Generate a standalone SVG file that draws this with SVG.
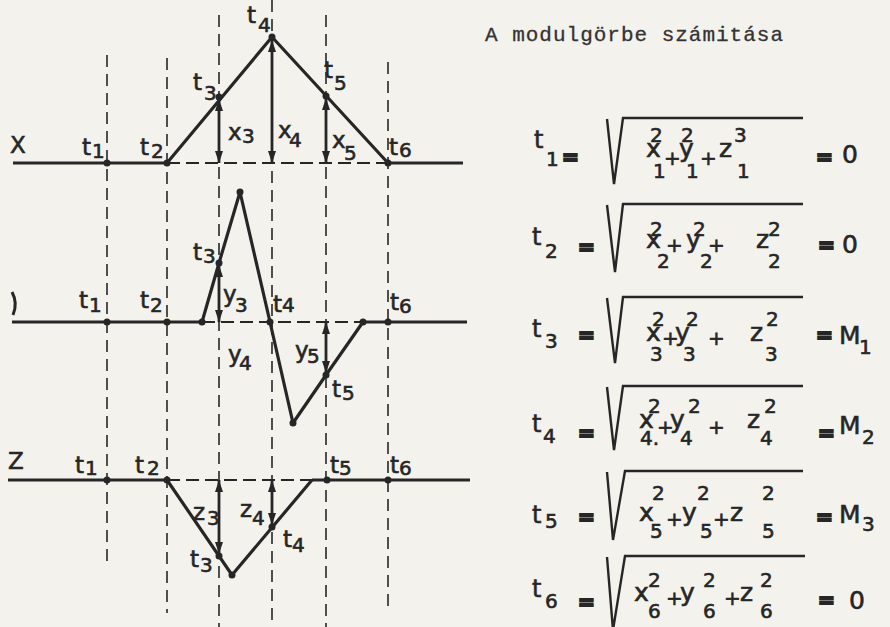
<svg xmlns="http://www.w3.org/2000/svg" width="890" height="627" viewBox="0 0 890 627">
<style>
.curve{stroke:#262626;stroke-width:3.2;fill:none;stroke-linejoin:round}
.base{stroke:#262626;stroke-width:3.2}
.vd{stroke:#262626;stroke-width:1.6;stroke-dasharray:12 7}
.hd{stroke:#262626;stroke-width:1.8;stroke-dasharray:13 6}
.dot{fill:#262626}
.arr{stroke:#262626;stroke-width:2.8;marker-start:url(#ah);marker-end:url(#ah)}
text{font-family:"DejaVu Sans","Liberation Sans",sans-serif;fill:#262626;stroke:#262626;stroke-width:0.6}
.L{font-size:23px}
.s{font-size:20px}
.F{font-size:25px}
.T{font-size:24px}
.fs{font-size:20px}
.op{font-size:20px}
.eq{font-size:20px;font-weight:bold;stroke-width:2}
.title{font-family:"Liberation Mono","DejaVu Sans Mono",monospace;font-size:21px;fill:#333;stroke:#333;stroke-width:0.3}
.rad{stroke:#262626;stroke-width:2.4;fill:none;stroke-linejoin:miter}
</style>
<defs>
<marker id="ah" viewBox="0 0 12 8" refX="12" refY="4" markerWidth="12" markerHeight="8" markerUnits="userSpaceOnUse" orient="auto-start-reverse"><path d="M0,0 L12,4 L0,8 z" fill="#262626"/></marker>
</defs>
<rect width="890" height="627" fill="#f4f2ec"/>

<g id="grid">
<line class="vd" x1="107" y1="55" x2="107" y2="562"/>
<line class="vd" x1="167" y1="58" x2="167" y2="613"/>
<line class="vd" x1="219" y1="15" x2="219" y2="627"/>
<line class="vd" x1="272" y1="0" x2="272" y2="627"/>
<line class="vd" x1="326" y1="15" x2="326" y2="627"/>
<line class="vd" x1="388" y1="62" x2="388" y2="612"/>
</g>

<g id="plot-x">
<line class="base" x1="13" y1="163" x2="167" y2="163"/>
<line class="hd" x1="167" y1="163" x2="388" y2="163"/>
<line class="base" x1="388" y1="163" x2="463" y2="163"/>
<polyline class="curve" points="167,163 272,37 388,163"/>
<circle class="dot" cx="107" cy="163" r="3.5"/><circle class="dot" cx="167" cy="163" r="3.5"/>
<circle class="dot" cx="219" cy="97" r="3.5"/><circle class="dot" cx="272" cy="37" r="3.5"/>
<circle class="dot" cx="326" cy="96" r="3.5"/><circle class="dot" cx="388" cy="163" r="3.5"/>
<text class="L" x="10" y="153">X</text>
<text class="L" x="82" y="155">t</text><text class="s" x="92" y="158">1</text>
<text class="L" x="140" y="155">t</text><text class="s" x="151" y="158">2</text>
<text class="L" x="193" y="90">t</text><text class="s" x="204" y="100">3</text>
<text class="L" x="247" y="23">t</text><text class="s" x="258" y="32">4</text>
<text class="L" x="324" y="78">t</text><text class="s" x="334" y="90">5</text>
<text class="L" x="389" y="155">t</text><text class="s" x="399" y="157">6</text>
<text class="L" x="228" y="140">x</text><text class="s" x="242" y="143">3</text>
<text class="L" x="278" y="138">x</text><text class="s" x="289" y="147">4</text>
<text class="L" x="332" y="148">x</text><text class="s" x="344" y="160">5</text>
</g>

<g id="plot-y">
<path d="M12,292 Q18,303 13,315" stroke="#262626" stroke-width="3" fill="none"/>
<line class="base" x1="12" y1="322" x2="202" y2="322"/>
<line class="hd" x1="202" y1="322" x2="363" y2="322"/>
<line class="base" x1="363" y1="322" x2="467" y2="322"/>
<polyline class="curve" points="202,322 219,263 240,192 270,322 293,423 326,375 363,322"/>
<circle class="dot" cx="107" cy="322" r="3.5"/><circle class="dot" cx="167" cy="322" r="3.5"/>
<circle class="dot" cx="202" cy="322" r="3.5"/><circle class="dot" cx="219" cy="263" r="3.5"/>
<circle class="dot" cx="240" cy="192" r="3.5"/><circle class="dot" cx="270" cy="322" r="3.5"/>
<circle class="dot" cx="293" cy="423" r="3.5"/><circle class="dot" cx="326" cy="375" r="3.5"/>
<circle class="dot" cx="363" cy="322" r="3.5"/><circle class="dot" cx="388" cy="322" r="3.5"/>
<text class="L" x="79" y="308">t</text><text class="s" x="89" y="312">1</text>
<text class="L" x="140" y="308">t</text><text class="s" x="150" y="312">2</text>
<text class="L" x="193" y="260">t</text><text class="s" x="203" y="263">3</text>
<text class="L" x="223" y="302">y</text><text class="s" x="235" y="312">3</text>
<text class="L" x="273" y="312">t</text><text class="s" x="282" y="312">4</text>
<text class="L" x="390" y="310">t</text><text class="s" x="399" y="313">6</text>
<text class="L" x="228" y="362">y</text><text class="s" x="239" y="370">4</text>
<text class="L" x="295" y="358">y</text><text class="s" x="307" y="363">5</text>
<text class="L" x="332" y="397">t</text><text class="s" x="342" y="400">5</text>
</g>

<g id="plot-z">
<line class="base" x1="8" y1="480" x2="167" y2="480"/>
<line class="hd" x1="167" y1="480" x2="312" y2="480"/>
<line class="base" x1="312" y1="480" x2="470" y2="480"/>
<polyline class="curve" points="167,480 232,575 312,480"/>
<circle class="dot" cx="107" cy="480" r="3.5"/><circle class="dot" cx="167" cy="480" r="3.5"/>
<circle class="dot" cx="219" cy="556" r="3.5"/><circle class="dot" cx="232" cy="575" r="3.5"/>
<circle class="dot" cx="272" cy="527" r="3.5"/><circle class="dot" cx="327" cy="480" r="3.5"/>
<circle class="dot" cx="388" cy="480" r="3.5"/>
<text class="L" x="8" y="469">Z</text>
<text class="L" x="75" y="473">t</text><text class="s" x="85" y="475">1</text>
<text class="L" x="135" y="473">t</text><text class="s" x="147" y="475">2</text>
<text class="L" x="330" y="473">t</text><text class="s" x="339" y="475">5</text>
<text class="L" x="390" y="473">t</text><text class="s" x="399" y="475">6</text>
<text class="L" x="193" y="520">z</text><text class="s" x="207" y="525">3</text>
<text class="L" x="240" y="517">z</text><text class="s" x="252" y="525">4</text>
<text class="L" x="283" y="547">t</text><text class="s" x="292" y="552">4</text>
<text class="L" x="190" y="567">t</text><text class="s" x="200" y="572">3</text>
</g>

<g id="connectors">
<line class="arr" x1="219" y1="99" x2="219" y2="163"/>
<line class="arr" x1="272" y1="40" x2="272" y2="163"/>
<line class="arr" x1="326" y1="98" x2="326" y2="163"/>
<line class="arr" x1="219" y1="265" x2="219" y2="322"/>
<line class="arr" x1="326" y1="322" x2="326" y2="373"/>
<line class="arr" x1="219" y1="480" x2="219" y2="554"/>
<line class="arr" x1="272" y1="480" x2="272" y2="525"/>
</g>

<g id="title"><text class="title" x="485" y="41" textLength="298">A modulgörbe számitása</text></g>

<g id="eq1">
<text class="T" x="534" y="148">t</text><text class="fs" x="546" y="166">1</text>
<text class="eq" x="562" y="164">=</text>
<path class="rad" d="M607,119 L614,184 L623,118 L803,118"/>
<text class="F" x="646" y="157">x</text><text class="fs" x="650" y="142">2</text><text class="fs" x="653" y="178">1</text>
<text class="op" x="664" y="165">+</text>
<text class="F" x="679" y="157">y</text><text class="fs" x="681" y="142">2</text><text class="fs" x="686" y="178">1</text>
<text class="op" x="700" y="165">+</text>
<text class="F" x="719" y="157">z</text><text class="fs" x="734" y="142">3</text><text class="fs" x="737" y="178">1</text>
<text class="eq" x="816" y="164">=</text>
<text class="F" x="842" y="163">0</text>
</g>

<g id="eq2">
<text class="T" x="532" y="245">t</text><text class="fs" x="545" y="258">2</text>
<text class="eq" x="578" y="254">=</text>
<path class="rad" d="M607,205 L615,272 L623,204 L803,204"/>
<text class="F" x="646" y="248">x</text><text class="fs" x="650" y="236">2</text><text class="fs" x="657" y="268">2</text>
<text class="op" x="666" y="252">+</text>
<text class="F" x="686" y="248">y</text><text class="fs" x="693" y="236">2</text><text class="fs" x="700" y="268">2</text>
<text class="op" x="708" y="252">+</text>
<text class="F" x="756" y="248">z</text><text class="fs" x="768" y="236">2</text><text class="fs" x="768" y="268">2</text>
<text class="eq" x="818" y="252">=</text>
<text class="F" x="842" y="253">0</text>
</g>

<g id="eq3">
<text class="T" x="532" y="337">t</text><text class="fs" x="545" y="348">3</text>
<text class="eq" x="578" y="342">=</text>
<path class="rad" d="M607,298 L615,363 L623,297 L803,297"/>
<text class="F" x="646" y="341">x</text><text class="fs" x="652" y="326">2</text><text class="fs" x="650" y="361">3</text>
<text class="op" x="662" y="345">+</text>
<text class="F" x="675" y="341">y</text><text class="fs" x="686" y="326">2</text><text class="fs" x="683" y="361">3</text>
<text class="op" x="708" y="345">+</text>
<text class="F" x="750" y="341">z</text><text class="fs" x="766" y="326">2</text><text class="fs" x="765" y="361">3</text>
<text class="eq" x="816" y="342">=</text>
<text class="F" x="839" y="344">M</text><text class="fs" x="859" y="354">1</text>
</g>

<g id="eq4">
<text class="T" x="532" y="432">t</text><text class="fs" x="543" y="443">4</text>
<text class="eq" x="578" y="440">=</text>
<path class="rad" d="M607,387 L614,450 L623,386 L803,386"/>
<text class="F" x="639" y="428">x</text><text class="fs" x="648" y="413">2</text><text class="fs" x="640" y="445">4.</text>
<text class="op" x="657" y="434">+</text>
<text class="F" x="670" y="428">y</text><text class="fs" x="688" y="413">2</text><text class="fs" x="680" y="445">4</text>
<text class="op" x="708" y="434">+</text>
<text class="F" x="747" y="428">z</text><text class="fs" x="764" y="413">2</text><text class="fs" x="760" y="445">4</text>
<text class="eq" x="818" y="440">=</text>
<text class="F" x="839" y="434">M</text><text class="fs" x="862" y="444">2</text>
</g>

<g id="eq5">
<text class="T" x="532" y="523">t</text><text class="fs" x="545" y="528">5</text>
<text class="eq" x="578" y="524">=</text>
<path class="rad" d="M607,472 L613,540 L625,471 L803,471"/>
<text class="F" x="639" y="521">x</text><text class="fs" x="652" y="500">2</text><text class="fs" x="650" y="538">5</text>
<text class="op" x="666" y="526">+</text>
<text class="F" x="682" y="521">y</text><text class="fs" x="697" y="500">2</text><text class="fs" x="700" y="538">5</text>
<text class="op" x="713" y="526">+</text>
<text class="F" x="730" y="521">z</text><text class="fs" x="762" y="500">2</text><text class="fs" x="762" y="538">5</text>
<text class="eq" x="816" y="524">=</text>
<text class="F" x="839" y="523">M</text><text class="fs" x="862" y="531">3</text>
</g>

<g id="eq6">
<text class="T" x="532" y="597">t</text><text class="fs" x="545" y="608">6</text>
<text class="eq" x="578" y="609">=</text>
<path class="rad" d="M607,557 L613,630 L625,556 L805,556"/>
<text class="F" x="634" y="601">x</text><text class="fs" x="648" y="587">2</text><text class="fs" x="648" y="618">6</text>
<text class="op" x="666" y="605">+</text>
<text class="F" x="680" y="601">y</text><text class="fs" x="703" y="587">2</text><text class="fs" x="703" y="618">6</text>
<text class="op" x="724" y="605">+</text>
<text class="F" x="740" y="601">z</text><text class="fs" x="760" y="587">2</text><text class="fs" x="760" y="618">6</text>
<text class="eq" x="818" y="607">=</text>
<text class="F" x="849" y="609">0</text>
</g>
</svg>
